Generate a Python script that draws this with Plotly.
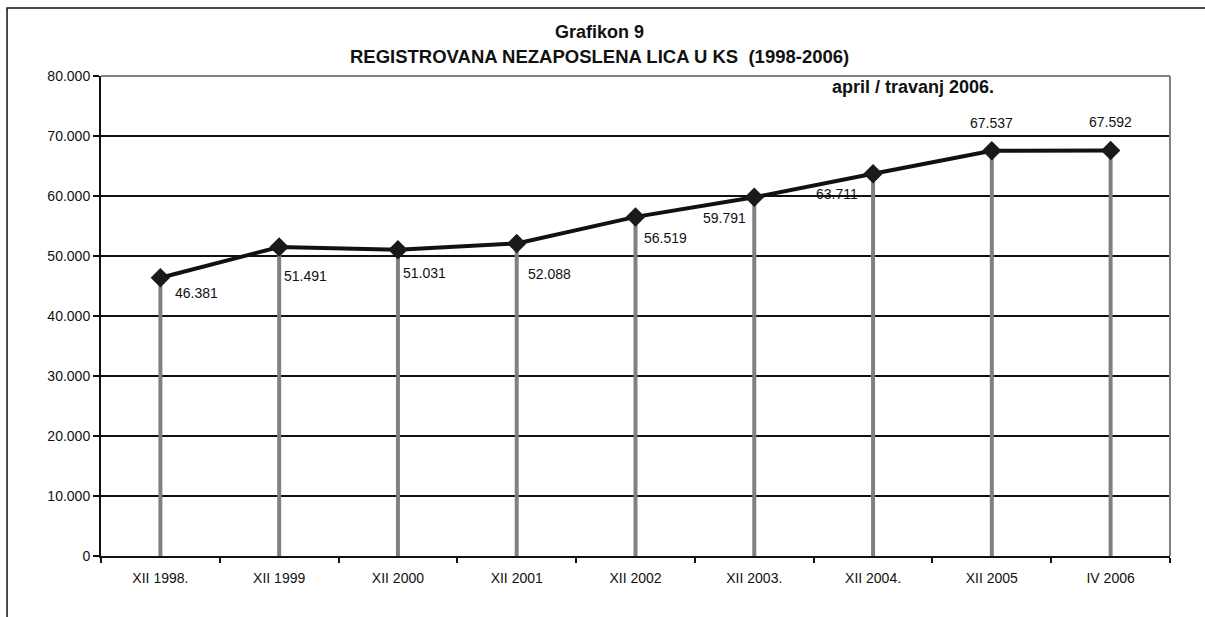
import plotly.graph_objects as go

periods = ['XII 1998.', 'XII 1999', 'XII 2000', 'XII 2001', 'XII 2002',
           'XII 2003.', 'XII 2004.', 'XII 2005', 'IV 2006']
unemployed = [46381, 51491, 51031, 52088, 56519, 59791, 63711, 67537, 67592]
y_ticks = [0, 10000, 20000, 30000, 40000, 50000, 60000, 70000, 80000]

# label placement (anchor, x shift, y shift) as in the original sheet
label_pos = [('left', 13, -15), ('left', 3, -29), ('left', 3, -23), ('left', 9, -31),
             ('left', 6, -21), ('right', -6, -21), ('right', -13, -20),
             ('center', 0, 28), ('center', 0, 28)]

fnt = 'Liberation Sans, Arial, sans-serif'
ink = '#111111'

# drop lines from zero up to every value
drop_x, drop_y = [], []
for p, v in zip(periods, unemployed):
    drop_x += [p, p, None]
    drop_y += [0, v, None]

fig = go.Figure()
fig.add_trace(go.Scatter(x=drop_x, y=drop_y, mode='lines',
                         line=dict(color='#808080', width=4),
                         hoverinfo='skip', showlegend=False))
fig.add_trace(go.Scatter(x=periods, y=unemployed, mode='lines+markers',
                         line=dict(color=ink, width=4),
                         marker=dict(symbol='diamond', size=15, color='#1a1a1a'),
                         showlegend=False))

for p, v, (anc, dx, dy) in zip(periods, unemployed, label_pos):
    fig.add_annotation(x=p, y=v, text=f'{v:,}'.replace(',', '.'), showarrow=False,
                       xanchor=anc, yanchor='middle', xshift=dx, yshift=dy,
                       font=dict(family=fnt, size=14, color=ink))

fig.add_annotation(xref='paper', yref='paper', x=0.466, y=1.0917, yanchor='middle',
                   text='<b>Grafikon 9</b>', showarrow=False,
                   font=dict(family=fnt, size=18, color=ink))
fig.add_annotation(xref='paper', yref='paper', x=0.466, y=1.0396, yanchor='middle',
                   text='<b>REGISTROVANA NEZAPOSLENA LICA U KS \u00a0(1998-2006)</b>',
                   showarrow=False, font=dict(family=fnt, size=18.5, color=ink))
fig.add_annotation(xref='paper', yref='paper', x=0.682, y=0.977, yanchor='middle',
                   text='<b>april / travanj 2006.</b>', showarrow=False,
                   xanchor='left', font=dict(family=fnt, size=18, color=ink))

# gray top and right border of plot area
fig.add_shape(type='line', xref='paper', yref='paper', x0=0, x1=1, y0=1, y1=1,
              line=dict(color='#808080', width=2), layer='above')
fig.add_shape(type='line', xref='paper', yref='paper', x0=1, x1=1, y0=0, y1=1,
              line=dict(color='#808080', width=2), layer='above')
# outer chart frame (cut off at right and bottom)
fig.add_shape(type='rect', xref='paper', yref='paper', x0=-0.0879, x1=1.2,
              y0=-0.3, y1=1.1417, line=dict(color=ink, width=1.5))

fig.update_xaxes(type='category', range=[-0.5, 8.5], showgrid=False,
                 showline=True, linecolor=ink, linewidth=2,
                 ticks='outside', tickson='boundaries', ticklen=5,
                 tickcolor=ink, tickwidth=2, ticklabelstandoff=8,
                 tickfont=dict(family=fnt, size=14, color=ink))
fig.update_yaxes(range=[0, 80000], tickvals=y_ticks, tickformat=',d',
                 showgrid=True, gridcolor=ink, gridwidth=2,
                 showline=True, linecolor=ink, linewidth=2,
                 ticks='outside', ticklen=6, tickcolor=ink, tickwidth=2,
                 zeroline=False, ticklabelstandoff=0,
                 tickfont=dict(family=fnt, size=14, color=ink))

fig.update_layout(width=1205, height=617, separators=',.',
                  margin=dict(l=101, r=35, t=76, b=61),
                  plot_bgcolor='white', paper_bgcolor='white')

fig.write_html('out.html', config={'displayModeBar': False},
               post_script="document.body.style.margin='0';")
